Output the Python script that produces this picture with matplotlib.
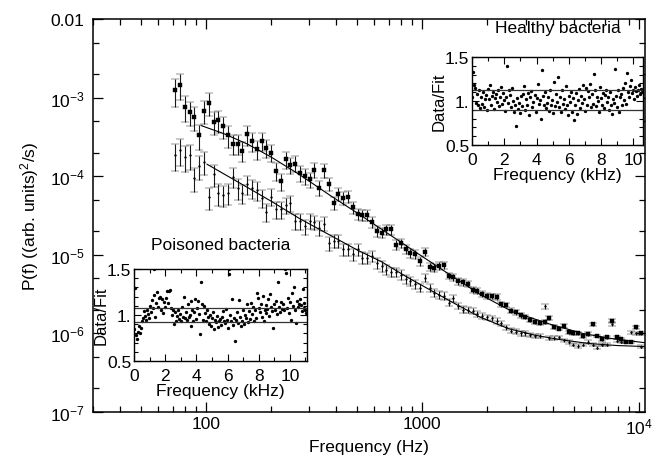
import numpy as np
import matplotlib
matplotlib.use("Agg")
import matplotlib.pyplot as plt
from matplotlib.ticker import LogLocator, FixedLocator, MultipleLocator, NullFormatter

plt.rcParams['font.family'] = ['Liberation Sans', 'DejaVu Sans']
plt.rcParams['mathtext.fontset'] = 'custom'
plt.rcParams['mathtext.rm'] = 'Liberation Sans'
plt.rcParams['mathtext.it'] = 'Liberation Sans:italic'

# 頻率 (Hz)，兩組共用
freq_hz = [72, 75.8, 79.7, 83.9, 88.3, 92.9, 97.8, 102.9, 108.3, 114,
           120, 126.3, 132.9, 139.9, 147.2, 154.9, 163, 171.6, 180.6, 190,
           200, 210.5, 221.5, 233.1, 245.3, 258.2, 271.7, 286, 301, 316.7,
           333.3, 350.8, 369.2, 388.5, 408.9, 430.3, 452.9, 476.6, 501.6, 527.9,
           555.5, 584.6, 615.3, 647.5, 681.5, 717.2, 754.7, 794.3, 835.9, 879.7,
           925.8, 974.4, 1025, 1079, 1136, 1195, 1258, 1324, 1393, 1466,
           1543, 1624, 1709, 1798, 1893, 1992, 2096, 2206, 2322, 2443,
           2571, 2706, 2848, 2997, 3154, 3320, 3494, 3677, 3869, 4072,
           4286, 4510, 4747, 4995, 5257, 5533, 5823, 6128, 6449, 6787,
           7143, 7517, 7911, 8326, 8762, 9221, 9705, 10213]

healthy_p = [1.24e-3, 1.46e-3, 7.6e-4, 6.6e-4, 5.7e-4, 3.3e-4, 6.8e-4, 8.6e-4, 4.9e-4, 5.2e-4,
             4.3e-4, 3.3e-4, 2.6e-4, 2.6e-4, 2.1e-4, 3.4e-4, 2.8e-4, 2.2e-4, 2.8e-4, 2.3e-4,
             2.0e-4, 1.17e-4, 8.6e-5, 1.64e-4, 1.4e-4, 1.45e-4, 1.09e-4, 1.0e-4, 9.1e-5, 1.2e-4,
             7.1e-5, 1.2e-4, 8.0e-5, 4.6e-5, 6.0e-5, 5.3e-5, 5.5e-5, 4.0e-5, 3.3e-5, 3.2e-5,
             3.2e-5, 2.6e-5, 2.03e-5, 1.9e-5, 2.1e-5, 2.1e-5, 1.35e-5, 1.4e-5, 1.17e-5, 1.06e-5,
             1.02e-5, 8.3e-6, 1.09e-5, 7.0e-6, 6.8e-6, 7.2e-6, 7.4e-6, 5.4e-6, 5.2e-6, 4.6e-6,
             4.5e-6, 4.3e-6, 3.6e-6, 3.45e-6, 3.2e-6, 3.0e-6, 2.95e-6, 2.9e-6, 2.34e-6, 2.3e-6,
             1.95e-6, 1.85e-6, 1.7e-6, 1.62e-6, 1.5e-6, 1.4e-6, 1.36e-6, 1.4e-6, 1.58e-6, 1.2e-6,
             1.15e-6, 1.25e-6, 1.03e-6, 1.01e-6, 1.0e-6, 9.3e-7, 9.8e-7, 1.3e-6, 9.3e-7, 8.4e-7,
             8.9e-7, 1.45e-6, 8.9e-7, 8.5e-7, 7.8e-7, 7.8e-7, 1.2e-6, 1.0e-6]

poisoned_p = [1.86e-4, 2.15e-4, 1.77e-4, 1.86e-4, 9.4e-5, 1.36e-4, 1.53e-4, 5.4e-5, 1.06e-4, 6.1e-5,
              5.8e-5, 6.1e-5, 9.9e-5, 7.1e-5, 6.1e-5, 7.9e-5, 7.1e-5, 6.7e-5, 5.3e-5, 3.5e-5,
              5.5e-5, 3.8e-5, 3.8e-5, 4.3e-5, 4.6e-5, 2.7e-5, 2.7e-5, 2.3e-5, 2.7e-5, 2.6e-5,
              2.2e-5, 2.5e-5, 1.4e-5, 1.49e-5, 1.5e-5, 1.17e-5, 1.17e-5, 1.01e-5, 1.17e-5, 9.2e-6,
              9.2e-6, 9.6e-6, 7.9e-6, 7.2e-6, 6.5e-6, 6.0e-6, 6.0e-6, 5.6e-6, 4.9e-6, 4.6e-6,
              4.2e-6, 3.8e-6, 5.1e-6, 3.8e-6, 3.3e-6, 3.1e-6, 3.0e-6, 2.47e-6, 2.8e-6, 2.24e-6,
              2.0e-6, 2.0e-6, 1.94e-6, 1.76e-6, 1.67e-6, 1.6e-6, 1.55e-6, 1.45e-6, 1.35e-6, 1.2e-6,
              1.08e-6, 1.05e-6, 1.01e-6, 1.0e-6, 9.6e-7, 9.3e-7, 9.3e-7, 2.2e-6, 8.7e-7, 8.7e-7,
              8.9e-7, 8.2e-7, 7.8e-7, 7.2e-7, 6.9e-7, 7.2e-7, 7.8e-7, 7.2e-7, 6.6e-7, 7.2e-7,
              7.2e-7, 1.3e-6, 8.1e-7, 7.8e-7, 7.8e-7, 1.03e-6, 1.0e-6, 6.8e-7]

# 相對誤差
rel_err = [0.38, 0.37, 0.36, 0.35, 0.34, 0.34, 0.33, 0.32, 0.32, 0.31,
           0.30, 0.30, 0.29, 0.29, 0.28, 0.28, 0.27, 0.27, 0.26, 0.26,
           0.25, 0.25, 0.24, 0.24, 0.23, 0.23, 0.23, 0.22, 0.22, 0.21,
           0.21, 0.20, 0.20, 0.19, 0.19, 0.18, 0.18, 0.18, 0.17, 0.17,
           0.16, 0.16, 0.16, 0.15, 0.15, 0.14, 0.14, 0.14, 0.13, 0.13,
           0.13, 0.12, 0.12, 0.12, 0.11, 0.11, 0.11, 0.10, 0.10, 0.10,
           0.10, 0.09, 0.09, 0.09, 0.09, 0.08, 0.08, 0.08, 0.08, 0.07,
           0.07, 0.07, 0.07, 0.07, 0.06, 0.06, 0.06, 0.06, 0.06, 0.06,
           0.05, 0.05, 0.05, 0.05, 0.05, 0.05, 0.05, 0.05, 0.04, 0.04,
           0.04, 0.04, 0.04, 0.04, 0.04, 0.04, 0.04, 0.04]

# 擬合曲線
healthy_fit_f = [95, 120, 156, 200, 270, 378, 500, 650, 795, 1000, 1300, 1860, 2600, 3930, 5500, 7500, 10700]
healthy_fit_p = [4.4e-4, 3.5e-4, 2.55e-4, 1.75e-4, 1.05e-4, 5.6e-5, 3.4e-5, 2.1e-5, 1.45e-5, 9.5e-6,
                 5.9e-6, 3.1e-6, 1.9e-6, 1.3e-6, 1.0e-6, 8.6e-7, 7.6e-7]
poisoned_fit_f = [101, 150, 200, 270, 378, 500, 645, 850, 1100, 1450, 1860, 2500, 3300, 4360, 6000, 8000, 10700]
poisoned_fit_p = [1.42e-4, 7.6e-5, 4.8e-5, 2.9e-5, 1.75e-5, 1.15e-5, 8.2e-6, 5.2e-6, 3.5e-6, 2.3e-6,
                  1.6e-6, 1.15e-6, 9.5e-7, 8.3e-7, 7.4e-7, 7.0e-7, 6.8e-7]

# 插圖 Data/Fit
inset_step_khz = 0.0625
healthy_ratio = [1.05, 1.33, 1.18, 1.15, 0.98, 1.08, 0.95, 1.12, 0.92, 1.05, 0.97, 1.10, 0.93, 1.02, 1.07, 0.90, 1.14,
                 1.02, 1.18, 0.96, 1.06, 1.10, 0.91, 1.03, 1.08, 0.99, 1.13, 0.94, 1.05, 1.16, 0.97, 1.09, 1.01, 0.89,
                 1.04, 1.40, 0.98, 1.12, 1.07, 0.93, 1.15, 1.00, 0.87, 0.95, 0.72, 1.03, 0.91, 0.98, 0.86, 1.06, 0.94,
                 1.08, 1.17, 0.90, 1.02, 0.96, 1.09, 0.84, 1.05, 1.11, 0.93, 0.99, 1.07, 0.88, 1.03, 1.19, 0.97, 1.01,
                 0.80, 1.35, 1.06, 0.95, 1.10, 0.92, 0.98, 1.04, 0.89, 1.13, 0.96, 1.01, 0.86, 1.22, 0.94, 1.08, 0.99,
                 1.27, 0.93, 1.05, 0.88, 1.12, 0.97, 1.02, 0.91, 1.17, 0.95, 0.84, 1.06, 0.99, 1.10, 0.87, 1.03, 0.78,
                 0.95, 1.09, 0.85, 1.01, 1.14, 0.92, 1.06, 0.98, 1.18, 1.02, 0.89, 1.15, 0.96, 1.11, 1.04, 1.19, 0.93,
                 1.08, 0.97, 1.31, 1.12, 0.94, 1.05, 1.00, 0.88, 1.16, 1.03, 0.96, 1.09, 0.92, 1.07, 1.13, 0.99, 1.05,
                 0.90, 1.10, 0.95, 0.85, 1.02, 0.98, 1.36, 1.06, 0.93, 1.12, 0.87, 1.04, 1.08, 0.96, 1.15, 1.01, 1.20,
                 0.97, 1.32, 1.10, 1.05, 1.17, 1.24, 1.09, 1.13, 1.02, 1.16, 1.11, 1.06, 1.12, 1.18, 1.08, 1.14, 1.10]
poisoned_ratio = [0.85, 1.29, 0.78, 0.74, 0.82, 0.88, 0.80, 0.86, 0.93, 0.97, 1.04, 0.99, 0.95, 1.06, 1.01, 0.97, 1.10,
                  1.03, 1.16, 1.08, 1.22, 1.50, 0.98, 1.13, 1.25, 1.09, 1.18, 1.20, 1.05, 1.17, 1.02, 1.14, 1.09, 1.19,
                  1.26, 1.13, 1.26, 1.27, 1.08, 1.00, 1.05, 0.90, 1.03, 0.93, 0.99, 1.06, 0.96, 1.01, 0.94, 1.09, 0.98,
                  1.20, 0.97, 1.03, 0.95, 1.12, 0.98, 1.00, 0.88, 1.15, 1.05, 0.93, 1.03, 1.17, 0.96, 1.08, 1.15, 1.01,
                  0.79, 1.36, 1.12, 0.95, 1.10, 1.02, 0.93, 1.06, 0.98, 0.90, 1.00, 0.88, 0.97, 1.03, 0.85, 0.95, 0.92,
                  0.99, 0.87, 0.93, 0.96, 0.89, 0.98, 1.04, 0.94, 0.91, 1.07, 0.95, 0.86, 1.50, 1.45, 1.00, 0.93, 1.17,
                  0.89, 0.97, 0.72, 0.95, 1.03, 0.91, 1.16, 0.98, 0.88, 0.94, 1.06, 0.90, 1.00, 0.97, 1.12, 0.92, 1.04,
                  0.96, 1.13, 1.01, 1.09, 0.94, 1.05, 0.97, 1.24, 1.18, 1.08, 1.03, 1.12, 0.98, 1.21, 0.93, 1.06, 1.11,
                  1.02, 1.07, 1.17, 0.99, 1.23, 1.09, 1.04, 0.86, 1.12, 1.06, 1.15, 1.01, 1.36, 1.09, 1.03, 1.14, 1.07,
                  1.12, 1.05, 1.50, 1.46, 1.08, 1.18, 1.02, 1.14, 0.95, 1.24, 1.10, 1.31, 1.06, 0.91, 1.15, 1.09, 1.12,
                  1.17, 1.11, 1.04, 1.28, 1.08, 1.13, 1.06, 1.02]
healthy_band = [1.13, 0.90]
poisoned_band = [1.08, 0.92]

FS = 12.5


def style_inset(ax, xmax):
    ax.set_xlim(0, xmax)
    ax.set_ylim(0.5, 1.5)
    ax.xaxis.set_major_locator(MultipleLocator(2))
    ax.xaxis.set_minor_locator(MultipleLocator(1))
    ax.yaxis.set_major_locator(FixedLocator([0.5, 1.0, 1.5]))
    ax.yaxis.set_minor_locator(MultipleLocator(0.1))
    ax.set_yticklabels(["0.5", "1.", "1.5"])
    ax.tick_params(which="both", direction="in", top=True, right=True, labelsize=FS)
    ax.tick_params(axis="x", pad=5)
    ax.tick_params(axis="y", pad=2)
    ax.tick_params(which="major", length=5, width=0.8)
    ax.tick_params(which="minor", length=3, width=0.8)
    ax.set_xlabel("Frequency (kHz)", fontsize=FS, labelpad=0)
    ax.set_ylabel("Data/Fit", fontsize=12, labelpad=-1)
    for s in ax.spines.values():
        s.set_linewidth(1.0)


def draw_inset(ax, ratio, band, xmax):
    x = np.arange(len(ratio)) * inset_step_khz
    ax.plot(x, ratio, ".", color="black", markersize=2.8)
    for b in band:
        ax.axhline(b, color="#333333", linewidth=0.9)
    style_inset(ax, xmax)


def draw_series(ax, f, p, err, marker, size):
    _, caps, bars = ax.errorbar(f, p, yerr=p * err, fmt=marker, color="black",
                                markersize=size, markeredgewidth=0.3,
                                ecolor="black", elinewidth=0.8, capsize=2.6, capthick=0.9)
    for c in caps:
        c.set_color("#6e6e6e")
    for b in bars:
        b.set_color("#1a1a1a")


fig = plt.figure(figsize=(6.57, 4.6), dpi=100)
ax = fig.add_axes([0.1416, 0.1022, 0.8401, 0.8543])

f = np.array(freq_hz)
err = np.array(rel_err)
draw_series(ax, f, np.array(healthy_p), err, "s", 2.2)
draw_series(ax, f, np.array(poisoned_p), err, "o", 1.3)
ax.plot(healthy_fit_f, healthy_fit_p, color="black", linewidth=0.8)
ax.plot(poisoned_fit_f, poisoned_fit_p, color="black", linewidth=0.8)

ax.set_xscale("log")
ax.set_yscale("log")
ax.set_xlim(30, 10700)
ax.set_ylim(1e-7, 1e-2)
ax.set_xticks([100, 1000, 10000])
ax.set_xticklabels(["100", "1000", "$10^4$"])
ax.xaxis.set_minor_locator(LogLocator(base=10, subs=np.arange(2, 10)))
ax.xaxis.set_minor_formatter(NullFormatter())
ax.set_yticks([1e-7, 1e-6, 1e-5, 1e-4, 1e-3, 1e-2])
ax.set_yticklabels(["$10^{-7}$", "$10^{-6}$", "$10^{-5}$", "$10^{-4}$", "$10^{-3}$", "0.01"])
ax.yaxis.set_minor_locator(LogLocator(base=10, subs=[2, 5]))
ax.yaxis.set_minor_formatter(NullFormatter())
ax.tick_params(which="both", direction="in", top=True, right=True, labelsize=FS)
ax.tick_params(which="major", length=7, width=0.9)
ax.tick_params(which="minor", length=4, width=0.9)
ax.tick_params(axis="x", which="major", pad=3)
ax.tick_params(axis="y", which="major", pad=6)
for s in ax.spines.values():
    s.set_linewidth(1.1)
ax.set_xlabel("Frequency (Hz)", fontsize=FS, labelpad=2)
ax.set_ylabel("P(f) ((arb. units)$^2$/s)", fontsize=FS, labelpad=6)

fig.text(0.849, 0.937, "Healthy bacteria", fontsize=FS, ha="center", va="center")
fig.text(0.336, 0.467, "Poisoned bacteria", fontsize=FS, ha="center", va="center")

ax_h = fig.add_axes([0.7184, 0.6826, 0.2603, 0.1913])
draw_inset(ax_h, healthy_ratio, healthy_band, 10.6)

ax_p = fig.add_axes([0.204, 0.213, 0.2633, 0.2])
draw_inset(ax_p, poisoned_ratio, poisoned_band, 11.1)

fig.savefig("out.png", dpi=100)
